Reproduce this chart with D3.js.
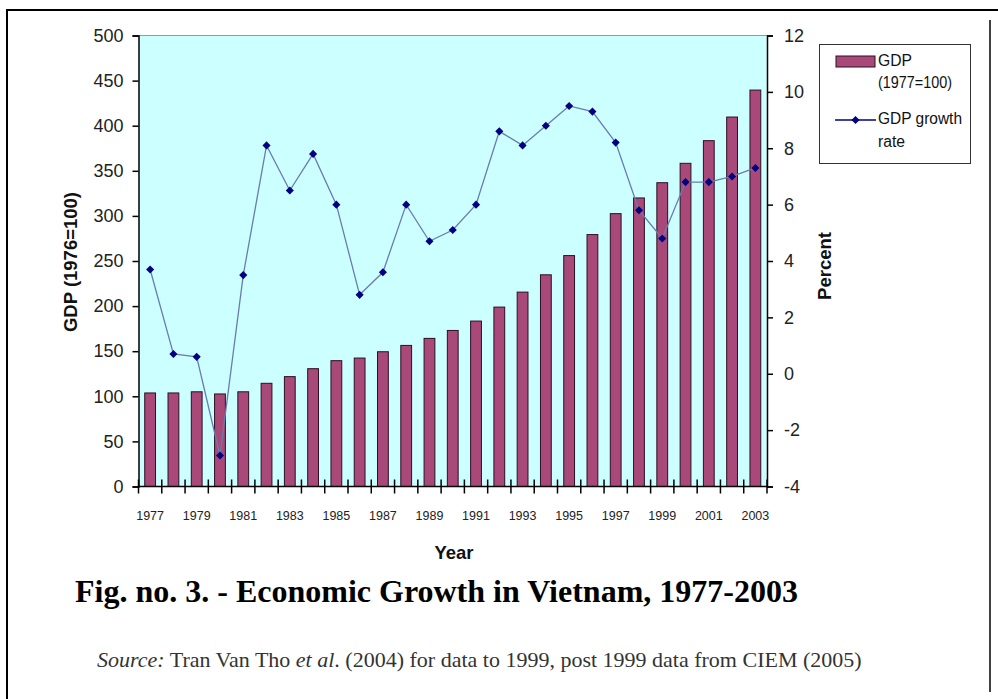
<!DOCTYPE html>
<html>
<head>
<meta charset="utf-8">
<script src="https://cdn.jsdelivr.net/npm/d3@7"></script>
<style>
  html, body { margin: 0; padding: 0; background: #fff; }
  svg { display: block; }
</style>
</head>
<body>
<svg id="chart" width="998" height="699"></svg>
<script>
const years = [1977,1978,1979,1980,1981,1982,1983,1984,1985,1986,1987,1988,1989,1990,1991,1992,1993,1994,1995,1996,1997,1998,1999,2000,2001,2002,2003];
const gdpIndex = [103.7,103.7,105,102.6,105,114.4,121.8,130.6,139.5,142.4,149.4,156.4,164.2,173,183.4,198.9,215.5,234.7,256,279.3,302.5,319.9,336.8,358.3,383.4,409.6,439.5];
const growthRate = [3.7,0.7,0.6,-2.9,3.5,8.1,6.5,7.8,6.0,2.8,3.6,6.0,4.7,5.1,6.0,8.6,8.1,8.8,9.5,9.3,8.2,5.8,4.8,6.8,6.8,7.0,7.3];
const leftTicks = [0,50,100,150,200,250,300,350,400,450,500];
const rightTicks = [-4,-2,0,2,4,6,8,10,12];
const xTickLabels = [1977,1979,1981,1983,1985,1987,1989,1991,1993,1995,1997,1999,2001,2003];

const svg = d3.select("#chart");
const P = {left: 138.5, right: 767, top: 35.5, bottom: 486.5};
const SANS = "Liberation Sans, Arial, sans-serif";
const SERIF = "Liberation Serif, Times New Roman, serif";

// outer frame lines
svg.append("line").attr("x1",7).attr("x2",998).attr("y1",10).attr("y2",10).attr("stroke","#000").attr("stroke-width",2);
svg.append("line").attr("x1",7).attr("x2",7).attr("y1",9).attr("y2",699).attr("stroke","#000").attr("stroke-width",2);
svg.append("line").attr("x1",990).attr("x2",990).attr("y1",20).attr("y2",692).attr("stroke","#000").attr("stroke-width",1.5);

const xBand = d3.scaleBand().domain(years).range([P.left, P.right]);
const yL = d3.scaleLinear().domain([0,500]).range([P.bottom, P.top]);
const yR = d3.scaleLinear().domain([-4,12]).range([P.bottom, P.top]);
const cx = d => xBand(d) + xBand.bandwidth()/2;

// plot background
svg.append("rect").attr("x",P.left).attr("y",P.top).attr("width",P.right-P.left).attr("height",P.bottom-P.top).attr("fill","#ccffff");
svg.append("line").attr("x1",P.left).attr("x2",P.right).attr("y1",P.top).attr("y2",P.top).attr("stroke","#999").attr("stroke-width",1);

// bars
svg.append("g").selectAll("rect").data(years).join("rect")
  .attr("x", d => cx(d) - 5.4)
  .attr("width", 10.8)
  .attr("y", (d,i) => yL(gdpIndex[i]))
  .attr("height", (d,i) => P.bottom - yL(gdpIndex[i]))
  .attr("fill", "#a8497a")
  .attr("stroke", "#2a1020")
  .attr("stroke-width", 1);

// line
svg.append("path")
  .datum(years)
  .attr("d", d3.line().x(d => cx(d)).y((d,i) => yR(growthRate[i])))
  .attr("fill","none").attr("stroke","#6a7bb0").attr("stroke-width",1.3);
svg.append("g").selectAll("path").data(years).join("path")
  .attr("transform",(d,i) => `translate(${cx(d)},${yR(growthRate[i])})`)
  .attr("d", d3.symbol().type(d3.symbolDiamond2).size(42))
  .attr("fill","#000080");

// left axis
const axL = svg.append("g").attr("transform",`translate(${P.left},0)`)
  .call(d3.axisLeft(yL).tickValues(leftTicks).tickSize(6).tickPadding(9).tickFormat(d => String(d)));
axL.select(".domain").attr("stroke","#000").attr("stroke-width",1.5);
axL.selectAll(".tick line").attr("stroke","#000").attr("stroke-width",1.5);
axL.selectAll("text").attr("font-family",SANS).attr("font-size",18).attr("fill","#222");

// right axis
const axR = svg.append("g").attr("transform",`translate(${P.right},0)`)
  .call(d3.axisRight(yR).tickValues(rightTicks).tickSize(6).tickPadding(11).tickFormat(d => String(d)));
axR.select(".domain").attr("stroke","#000").attr("stroke-width",1.5);
axR.selectAll(".tick line").attr("stroke","#000").attr("stroke-width",1.5);
axR.selectAll("text").attr("font-family",SANS).attr("font-size",18).attr("fill","#222");

// bottom axis: line + crossing ticks at band boundaries
svg.append("line").attr("x1",P.left).attr("x2",P.right).attr("y1",P.bottom).attr("y2",P.bottom).attr("stroke","#000").attr("stroke-width",1.5);
const bounds = years.map(d => xBand(d)).concat([P.right]);
svg.append("g").selectAll("line").data(bounds).join("line")
  .attr("x1",d=>d).attr("x2",d=>d).attr("y1",P.bottom-7).attr("y2",P.bottom+7)
  .attr("stroke","#000").attr("stroke-width",1.5);
svg.append("g").selectAll("text").data(xTickLabels).join("text")
  .attr("x", d => cx(d)).attr("y", 520)
  .attr("text-anchor","middle")
  .attr("font-family",SANS).attr("font-size",12.5).attr("fill","#222")
  .text(d => d);

// axis titles
svg.append("text").attr("transform","translate(77,262) rotate(-90)")
  .attr("text-anchor","middle").attr("font-family",SANS)
  .attr("font-weight","bold").attr("font-size",18.5).attr("fill","#111").text("GDP (1976=100)");
svg.append("text").attr("transform","translate(831,266) rotate(-90)")
  .attr("text-anchor","middle").attr("font-family",SANS)
  .attr("font-weight","bold").attr("font-size",18.5).attr("fill","#111").text("Percent");
svg.append("text").attr("x",454).attr("y",559)
  .attr("text-anchor","middle").attr("font-family",SANS)
  .attr("font-weight","bold").attr("font-size",18.5).attr("fill","#111").text("Year");

// legend
const lg = svg.append("g");
lg.append("rect").attr("x",819.5).attr("y",44.5).attr("width",151).attr("height",119).attr("fill","#fff").attr("stroke","#333").attr("stroke-width",1);
lg.append("rect").attr("x",836).attr("y",56).attr("width",39).attr("height",11).attr("fill","#a8497a").attr("stroke","#2a1020");
lg.append("line").attr("x1",835).attr("x2",876).attr("y1",120).attr("y2",120).attr("stroke","#000080").attr("stroke-width",1.3);
lg.append("path").attr("transform","translate(855.5,120)").attr("d", d3.symbol().type(d3.symbolDiamond2).size(42)).attr("fill","#000080");
const legTexts = [["GDP",66,34],["(1977=100)",88,74],["GDP growth",124,84],["rate",146.5,27]];
lg.selectAll("text.lt").data(legTexts).join("text").attr("class","lt")
  .attr("x",878).attr("y",d=>d[1])
  .attr("font-family",SANS).attr("font-size",16).attr("fill","#111")
  .attr("textLength", d => d[2]).attr("lengthAdjust","spacingAndGlyphs")
  .text(d=>d[0]);

// figure title
svg.append("text").attr("x",75).attr("y",602)
  .attr("font-family",SERIF).attr("font-weight","bold").attr("font-size",32).attr("fill","#000")
  .text("Fig. no. 3. - Economic Growth in Vietnam, 1977-2003");

// source
const src = svg.append("text").attr("x",97).attr("y",667)
  .attr("font-family",SERIF).attr("font-size",22).attr("fill","#333");
src.append("tspan").attr("font-style","italic").text("Source:");
src.append("tspan").text(" Tran Van Tho ");
src.append("tspan").attr("font-style","italic").text("et al");
src.append("tspan").text(". (2004) for data to 1999, post 1999 data from CIEM (2005)");
</script>
</body>
</html>
